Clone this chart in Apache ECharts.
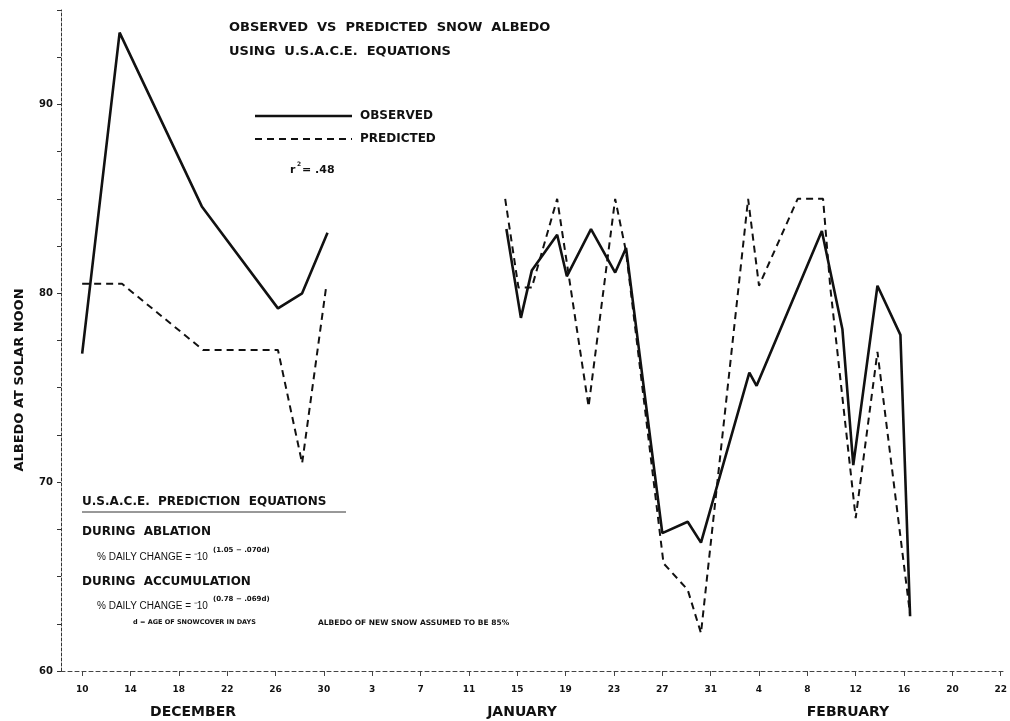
<!DOCTYPE html>
<html>
<head>
<meta charset="utf-8">
<script src="https://cdn.jsdelivr.net/npm/echarts@6/dist/echarts.min.js"></script>
<style>
  html, body { margin: 0; padding: 0; background: #fff; }
  #chart { width: 1010px; height: 721px; }
</style>
</head>
<body>
<div id="chart"></div>
<script>
// days counted from Dec 10; null = gap between the two measuring periods
const obsDays = [0, 3.1, 9.9, 16.2, 18.2, 20.3, null, 35.1, 36.3, 37.2, 39.3, 40.1, 42.1, 44.1, 45.0, 48.0, 50.1, 51.2, 55.2, 55.8, 61.2, 62.9, 63.8, 65.8, 67.7, 68.5];
const obsVals = [76.8, 93.8, 84.6, 79.2, 80.0, 83.2, null, 83.4, 78.7, 81.2, 83.1, 80.9, 83.4, 81.1, 82.4, 67.3, 67.9, 66.8, 75.8, 75.1, 83.3, 78.1, 70.9, 80.4, 77.8, 62.9];
const predDays = [0, 3.3, 10, 16.2, 18.2, 20.2, null, 35.0, 36.1, 37.2, 39.3, 41.9, 44.1, 45.0, 48.1, 50.1, 51.2, 55.1, 56.0, 59.2, 61.3, 61.9, 64.0, 65.8, 68.5];
const predVals = [80.5, 80.5, 77.0, 77.0, 71.0, 80.4, null, 85, 80.3, 80.3, 85, 74.0, 85, 82.2, 65.7, 64.3, 62.0, 85, 80.4, 85, 85, 80.3, 68.1, 76.9, 63.0];

const tickDays = [0, 4, 8, 12, 16, 20, 24, 28, 32, 36, 40, 44, 48, 52, 56, 60, 64, 68, 72, 76];
const tickLabels = ["10", "14", "18", "22", "26", "30", "3", "7", "11", "15", "19", "23", "27", "31", "4", "8", "12", "16", "20", "22"];
const months = ["DECEMBER", "JANUARY", "FEBRUARY"];

function pairs(xs, ys) {
  return xs.map((d, i) => (d === null ? ["-", "-"] : [d, ys[i]]));
}

const myChart = echarts.init(document.getElementById("chart"));
const bold = "DejaVu Sans";

var option = {
  animation: false,
  backgroundColor: "#fff",
  grid: { left: 61, right: 3, top: 10, bottom: 50 },
  xAxis: {
    type: "value",
    min: -1.75,
    max: 76.3,
    axisLine: { onZero: false, lineStyle: { color: "#444", width: 1, type: [4, 3] } },
    axisTick: { customValues: tickDays, length: 5, lineStyle: { color: "#444" } },
    axisLabel: {
      customValues: tickDays,
      formatter: (v) => tickLabels[tickDays.indexOf(v)],
      color: "#111",
      fontFamily: bold,
      fontWeight: "bold",
      fontSize: 9,
      margin: 14,
    },
    splitLine: { show: false },
  },
  yAxis: {
    type: "value",
    min: 60,
    max: 95,
    interval: 2.5,
    axisLine: { show: true, onZero: false, lineStyle: { color: "#333", width: 1, type: [3, 2] } },
    axisTick: { show: true, length: 4, lineStyle: { color: "#333" } },
    axisLabel: {
      formatter: (v) => (v % 10 === 0 ? v : ""),
      color: "#111",
      fontFamily: bold,
      fontWeight: "bold",
      fontSize: 10,
      margin: 8,
    },
    splitLine: { show: false },
  },
  graphic: [
    { type: "text", left: 229, top: 21, style: { text: "OBSERVED  VS  PREDICTED  SNOW  ALBEDO", font: "bold 13px " + bold, fill: "#111" } },
    { type: "text", left: 229, top: 45, style: { text: "USING  U.S.A.C.E.  EQUATIONS", font: "bold 13px " + bold, fill: "#111" } },
    // legend
    { type: "line", shape: { x1: 255, y1: 116, x2: 352, y2: 116 }, style: { stroke: "#111", lineWidth: 2.6 } },
    { type: "line", shape: { x1: 255, y1: 139, x2: 352, y2: 139 }, style: { stroke: "#111", lineWidth: 2, lineDash: [7, 5] } },
    { type: "text", left: 360, top: 110, style: { text: "OBSERVED", font: "bold 12px " + bold, fill: "#111" } },
    { type: "text", left: 360, top: 133, style: { text: "PREDICTED", font: "bold 12px " + bold, fill: "#111" } },
    { type: "text", left: 290, top: 165, style: { text: "r", font: "bold 11px " + bold, fill: "#111" } },
    { type: "text", left: 297, top: 161, style: { text: "2", font: "bold 6px " + bold, fill: "#111" } },
    { type: "text", left: 302, top: 165, style: { text: "= .48", font: "bold 11px " + bold, fill: "#111" } },
    { type: "text", x: 20, y: 380, rotation: Math.PI / 2, style: { text: "ALBEDO AT SOLAR NOON", font: "bold 13px " + bold, fill: "#111", align: "center", verticalAlign: "middle" } },
    // equations box
    { type: "text", left: 82, top: 496, style: { text: "U.S.A.C.E.  PREDICTION  EQUATIONS", font: "bold 12px " + bold, fill: "#111" } },
    { type: "line", shape: { x1: 82, y1: 512, x2: 346, y2: 512 }, style: { stroke: "#333", lineWidth: 1 } },
    { type: "text", left: 82, top: 526, style: { text: "DURING  ABLATION", font: "bold 12px " + bold, fill: "#111" } },
    { type: "text", left: 97, top: 552, style: { text: "% DAILY CHANGE = \u207B10", font: "10px Liberation Sans", fill: "#111" } },
    { type: "text", left: 213, top: 547, style: { text: "(1.05 \u2212 .070d)", font: "bold 7px " + bold, fill: "#111" } },
    { type: "text", left: 82, top: 576, style: { text: "DURING  ACCUMULATION", font: "bold 12px " + bold, fill: "#111" } },
    { type: "text", left: 97, top: 601, style: { text: "% DAILY CHANGE = \u207B10", font: "10px Liberation Sans", fill: "#111" } },
    { type: "text", left: 213, top: 596, style: { text: "(0.78 \u2212 .069d)", font: "bold 7px " + bold, fill: "#111" } },
    { type: "text", left: 133, top: 619, style: { text: "d = AGE OF SNOWCOVER IN DAYS", font: "bold 6.5px " + bold, fill: "#111" } },
    { type: "text", left: 318, top: 619, style: { text: "ALBEDO OF NEW SNOW ASSUMED TO BE 85%", font: "bold 7.5px " + bold, fill: "#111" } },
    // month names
    { type: "text", x: 193, y: 712, style: { text: months[0], font: "bold 14px " + bold, fill: "#111", align: "center", verticalAlign: "middle" } },
    { type: "text", x: 522, y: 712, style: { text: months[1], font: "bold 14px " + bold, fill: "#111", align: "center", verticalAlign: "middle" } },
    { type: "text", x: 848, y: 712, style: { text: months[2], font: "bold 14px " + bold, fill: "#111", align: "center", verticalAlign: "middle" } },
  ],
  series: [
    {
      name: "OBSERVED",
      type: "line",
      data: pairs(obsDays, obsVals),
      symbol: "none",
      connectNulls: false,
      lineStyle: { color: "#111", width: 2.6 },
      itemStyle: { color: "#111" },
    },
    {
      name: "PREDICTED",
      type: "line",
      data: pairs(predDays, predVals),
      symbol: "none",
      connectNulls: false,
      lineStyle: { color: "#111", width: 2, type: [7, 5] },
      itemStyle: { color: "#111" },
    },
  ],
};
myChart.setOption(option);
</script>
</body>
</html>
